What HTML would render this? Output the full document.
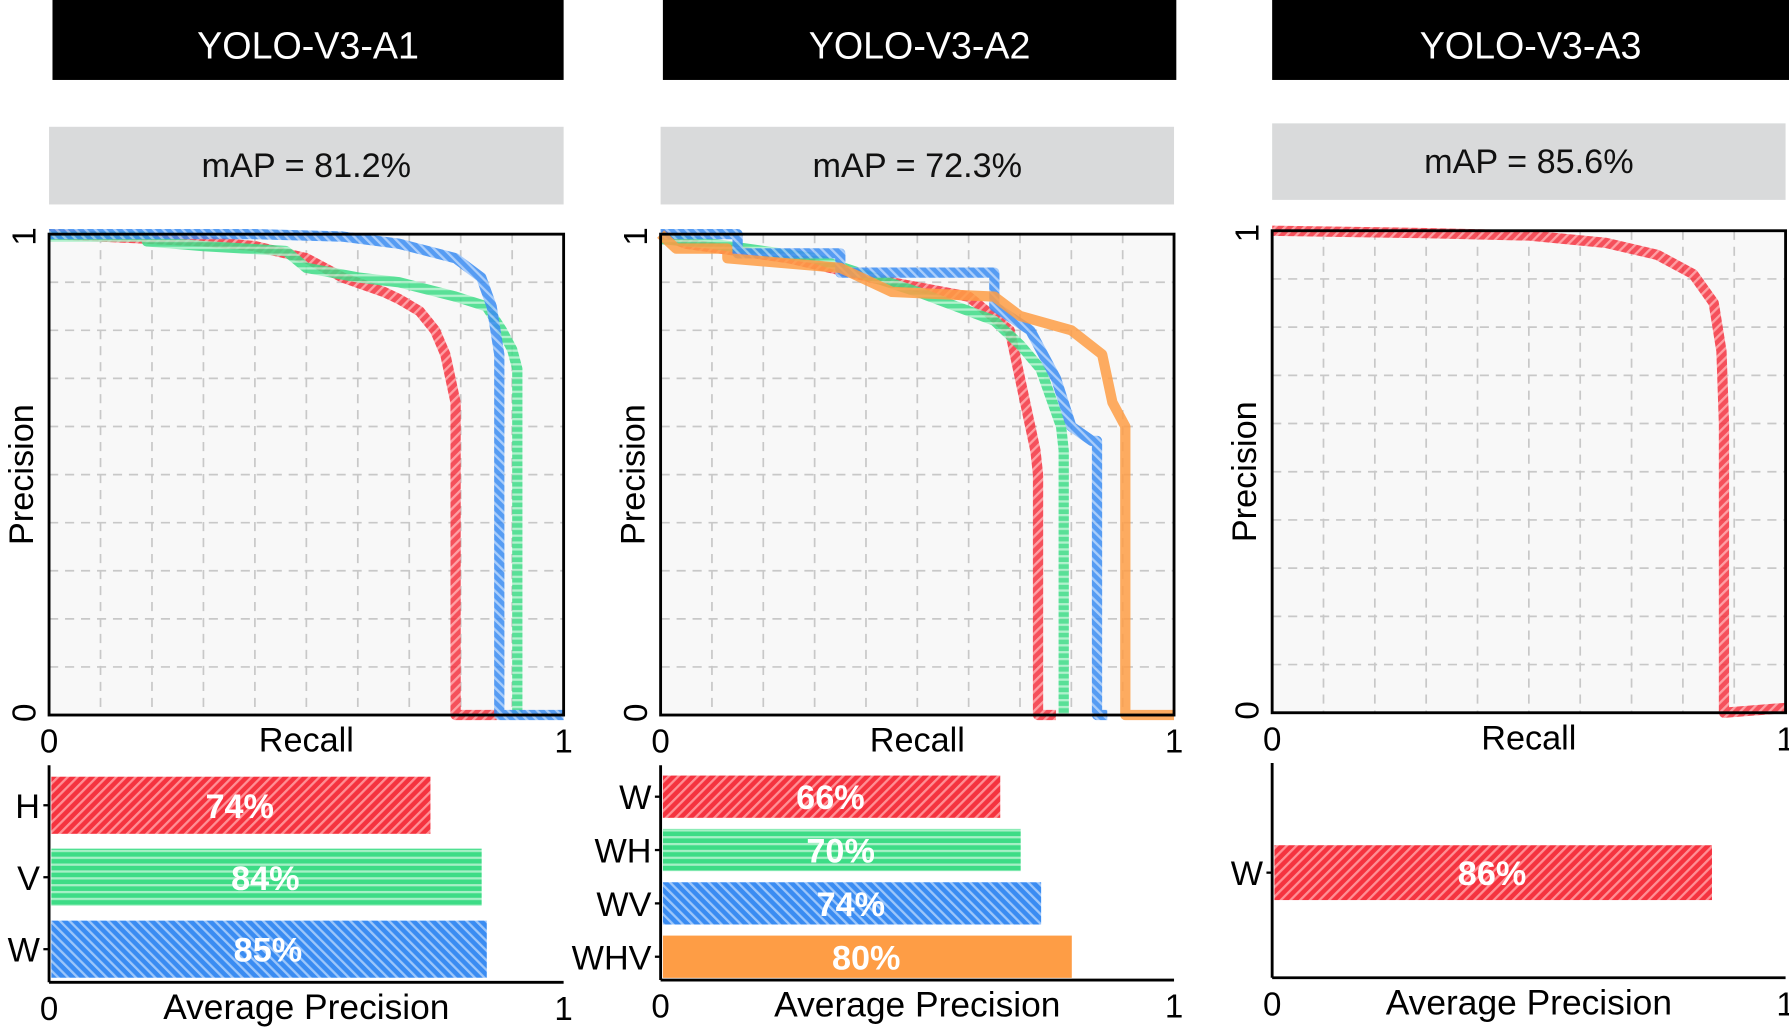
<!DOCTYPE html>
<html><head><meta charset="utf-8"><style>
html,body{margin:0;padding:0;background:#fff;width:1789px;height:1028px;overflow:hidden}
svg text{font-family:"Liberation Sans",sans-serif}
</style></head><body>
<svg id="fig" width="1789" height="1028" viewBox="0 0 1568 900" preserveAspectRatio="none" xmlns="http://www.w3.org/2000/svg">
<defs>
<pattern id="pRed" patternUnits="userSpaceOnUse" width="6" height="6" patternTransform="rotate(45)"><rect width="6" height="6" fill="#f5333f"/><rect width="2" height="6" fill="#ff8f95"/></pattern>
<pattern id="pGreen" patternUnits="userSpaceOnUse" width="6" height="6"><rect width="6" height="6" fill="#3ddc86"/><rect width="6" height="2" fill="#a6f0c6"/></pattern>
<pattern id="pBlue" patternUnits="userSpaceOnUse" width="6" height="6" patternTransform="rotate(-45)"><rect width="6" height="6" fill="#3a8cf2"/><rect width="2" height="6" fill="#9cc6fa"/></pattern>
<pattern id="pOrange" patternUnits="userSpaceOnUse" width="6" height="6"><rect width="6" height="6" fill="#fe9d45"/></pattern>
</defs>
</svg>
<script>
// Panel 1 data
const a1Labels = ['H','V','W'];
const a1AP = [0.74,0.84,0.85];
const a1Pats = ['pRed','pGreen','pBlue'];
const a1H_r = [0,0.2,0.3,0.4,0.5,0.57,0.65,0.68,0.72,0.75,0.77,0.78,0.79,0.79,0.87];
const a1H_p = [1,0.99,0.985,0.975,0.95,0.91,0.88,0.865,0.84,0.8,0.75,0.7,0.65,0,0];
const a1V_r = [0,0.19,0.19,0.3,0.46,0.5,0.6,0.68,0.79,0.85,0.88,0.9,0.91,0.91];
const a1V_p = [0.995,0.995,0.985,0.975,0.965,0.93,0.91,0.9,0.87,0.85,0.8,0.76,0.72,0];
const a1W_r = [0,0.4,0.57,0.68,0.79,0.84,0.86,0.875,0.875,1.0];
const a1W_p = [1,1,0.995,0.98,0.95,0.91,0.85,0.75,0,0];
// Panel 2 data
const a2Labels = ['W','WH','WV','WHV'];
const a2AP = [0.66,0.70,0.74,0.80];
const a2Pats = ['pRed','pGreen','pBlue','pOrange'];
const a2W_r = [0,0.05,0.25,0.45,0.6,0.68,0.7,0.72,0.73,0.735,0.735,0.77];
const a2W_p = [1,0.98,0.95,0.9,0.87,0.8,0.7,0.6,0.55,0.5,0,0];
const a2WH_r = [0,0.1,0.3,0.5,0.65,0.7,0.74,0.78,0.785,0.785];
const a2WH_p = [0.99,0.98,0.95,0.88,0.82,0.77,0.72,0.6,0.55,0];
const a2WV_r = [0,0.15,0.15,0.35,0.35,0.65,0.65,0.72,0.77,0.8,0.84,0.85,0.85,0.87];
const a2WV_p = [1,1,0.96,0.96,0.92,0.92,0.85,0.8,0.7,0.6,0.57,0.57,0,0];
const a2WHV_r = [0,0.03,0.13,0.13,0.35,0.45,0.65,0.7,0.8,0.86,0.88,0.905,0.905,1.0];
const a2WHV_p = [1,0.97,0.97,0.95,0.93,0.88,0.87,0.83,0.8,0.75,0.65,0.6,0,0];
// Panel 3 data
const a3Labels = ['W'];
const a3AP = [0.856];
const a3Pats = ['pRed'];
const a3W_r = [0,0.3,0.5,0.65,0.75,0.82,0.86,0.875,0.88,0.88,1.0];
const a3W_p = [1,0.995,0.99,0.975,0.95,0.91,0.85,0.75,0.6,0,0.01];

const NS='http://www.w3.org/2000/svg';
const svg=document.getElementById('fig');
function mk(tag,attrs,parent){const e=document.createElementNS(NS,tag);for(const k in attrs)e.setAttribute(k,attrs[k]);(parent||svg).appendChild(e);return e;}
function txt(x,y,s,size,attrs,parent){const t=mk('text',Object.assign({x:x,y:y,'font-size':size,'text-anchor':'middle'},attrs||{}),parent);t.textContent=s;return t;}

function panel(c){
  const g=mk('g',{});
  
  
  const tb=mk('rect',{x:c.tx0,y:0,width:c.tx1-c.tx0,height:70,fill:'#000'},g);
  
  
  const tt=txt((c.tx0+c.tx1)/2,51,c.title,33,{fill:'#fff'},g);
  
  
  const mb=mk('rect',{x:c.x0,y:c.my0,width:c.x1-c.x0,height:c.my1-c.my0,fill:'#d9dadb'},g);
  
  
  const mt=txt((c.x0+c.x1)/2,(c.my0+c.my1)/2+10,c.map,30,{fill:'#111'},g);
  
  
  const X=r=>c.x0+r*(c.x1-c.x0), Y=p=>c.py1-p*(c.py1-c.py0);
  const bg=mk('rect',{x:c.x0,y:c.py0,width:c.x1-c.x0,height:c.py1-c.py0,fill:'#f8f8f8'},g);
  
  
  for(let i=1;i<10;i++){
    const gl=mk('line',{x1:X(i/10),x2:X(i/10),y1:c.py0,y2:c.py1,stroke:'#c8c8c8','stroke-width':1.5,'stroke-dasharray':'8,6'},g);
    
    
    const gh=mk('line',{x1:c.x0,x2:c.x1,y1:Y(i/10),y2:Y(i/10),stroke:'#c8c8c8','stroke-width':1.5,'stroke-dasharray':'8,6'},g);
    
    
  }
  c.series.forEach((s,k)=>{
    let d='';s.r.forEach((r,i)=>{d+=(i?'L':'M')+X(r).toFixed(1)+','+Y(s.p[i]).toFixed(1);});
    const pth=mk('path',{d:d,fill:'none',stroke:'url(#'+s.pat+')','stroke-width':9,'stroke-opacity':0.85,'stroke-linejoin':'round'},g);
    
    
  });
  const br=mk('rect',{x:c.x0,y:c.py0,width:c.x1-c.x0,height:c.py1-c.py0,fill:'none',stroke:'#000','stroke-width':2.5},g);
  
  
  const t1=txt(0,0,'1',29,{transform:`translate(${c.x0-12},${c.py0+2}) rotate(-90)`},g);
  
  
  const t0=txt(0,0,'0',29,{transform:`translate(${c.x0-12},${c.py1-2}) rotate(-90)`},g);
  
  
  const yl=txt(0,0,'Precision',30,{transform:`translate(${c.x0-14},${(c.py0+c.py1)/2}) rotate(-90)`},g);
  
  
  const x0t=txt(c.x0,c.py1+33,'0',29,{},g);
  
  
  const x1t=txt(c.x1,c.py1+33,'1',29,{},g);
  
  
  const xl=txt((c.x0+c.x1)/2,c.py1+32,'Recall',30,{},g);
  
  
  const BX=v=>c.x0+2+v*(c.x1-c.x0-2);
  c.bars.forEach((b,i)=>{
    const r=mk('rect',{x:c.x0+2,y:b.y0,width:BX(b.v)-c.x0-2,height:b.y1-b.y0,fill:'url(#'+b.pat+')'},g);
    
    
    const vt=txt((c.x0+BX(b.v))/2,(b.y0+b.y1)/2+11,Math.round(b.v*100)+'%',30,{fill:'#fff','font-weight':'bold'},g);
    
    
    const lt=txt(c.x0-8,(b.y0+b.y1)/2+11,b.label,30,{'text-anchor':'end'},g);
    
    
    const tk=mk('line',{x1:c.x0-5,x2:c.x0,y1:(b.y0+b.y1)/2,y2:(b.y0+b.y1)/2,stroke:'#000','stroke-width':2},g);
    
    
  });
  const ay=mk('line',{x1:c.x0,x2:c.x0,y1:c.by0,y2:c.by1,stroke:'#000','stroke-width':2.5},g);
  
  
  const ax=mk('line',{x1:c.x0,x2:c.x1,y1:c.by1,y2:c.by1,stroke:'#000','stroke-width':2.5},g);
  
  
  const b0=txt(c.x0,c.by1+33,'0',29,{},g);
  
  
  const b1=txt(c.x1,c.by1+33,'1',29,{},g);
  
  
  const bl=txt((c.x0+c.x1)/2,c.by1+32,'Average Precision',31,{},g);
  
  
}
function bars(labels,ap,pats,y0,h,gap){return labels.map((l,i)=>({label:l,v:ap[i],pat:pats[i],y0:y0+i*(h+gap),y1:y0+i*(h+gap)+h}));}

panel({id:'a1',title:'YOLO-V3-A1',map:'mAP = 81.2%',tx0:46,tx1:494,x0:43,x1:494,my0:111,my1:179,py0:205,py1:626,by0:670,by1:860,
  series:[{name:'H',r:a1H_r,p:a1H_p,pat:'pRed'},{name:'V',r:a1V_r,p:a1V_p,pat:'pGreen'},{name:'W',r:a1W_r,p:a1W_p,pat:'pBlue'}],
  bars:bars(a1Labels,a1AP,a1Pats,680,50,13)});
panel({id:'a2',title:'YOLO-V3-A2',map:'mAP = 72.3%',tx0:581,tx1:1031,x0:579,x1:1029,my0:111,my1:179,py0:205,py1:626,by0:670,by1:858,
  series:[{name:'W',r:a2W_r,p:a2W_p,pat:'pRed'},{name:'WH',r:a2WH_r,p:a2WH_p,pat:'pGreen'},{name:'WV',r:a2WV_r,p:a2WV_p,pat:'pBlue'},{name:'WHV',r:a2WHV_r,p:a2WHV_p,pat:'pOrange'}],
  bars:bars(a2Labels,a2AP,a2Pats,679,37,9.7)});
panel({id:'a3',title:'YOLO-V3-A3',map:'mAP = 85.6%',tx0:1115,tx1:1568,x0:1115,x1:1565,my0:108,my1:175,py0:202,py1:624,by0:668,by1:856,
  series:[{name:'W',r:a3W_r,p:a3W_p,pat:'pRed'}],
  bars:bars(a3Labels,a3AP,a3Pats,740,48,0)});
</script>
</body></html>
